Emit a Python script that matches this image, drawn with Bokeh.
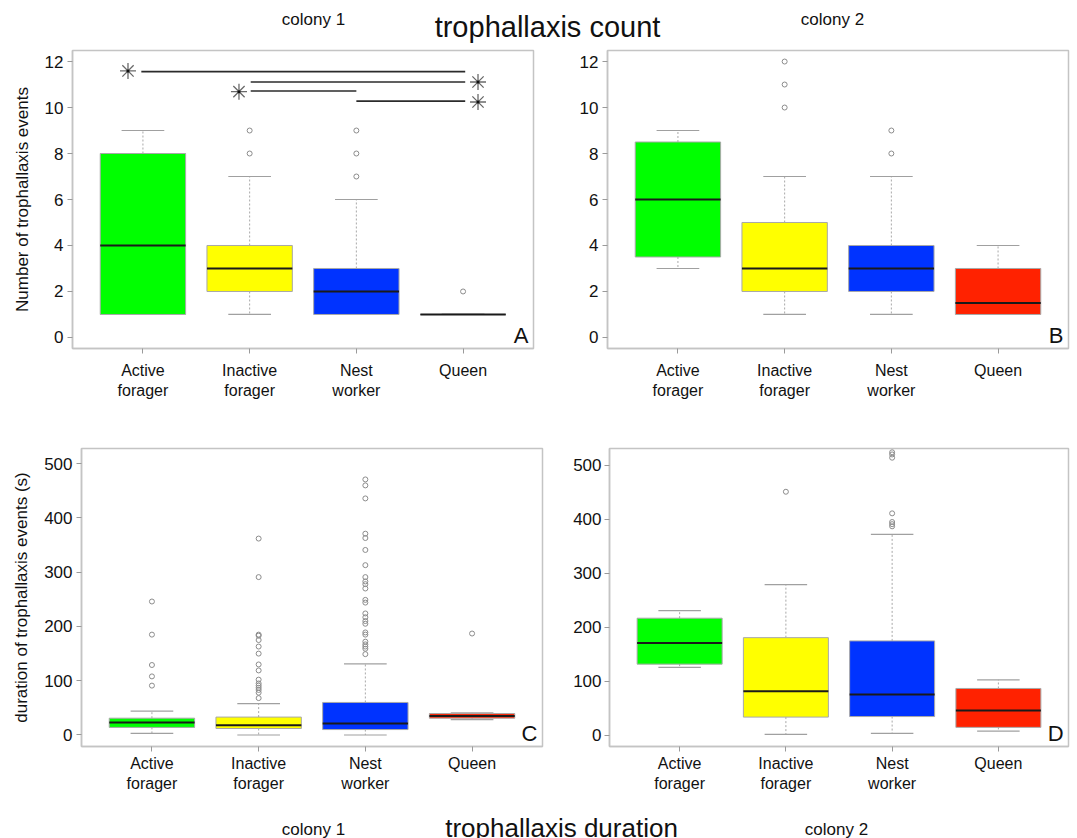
import numpy as np
from bokeh.plotting import figure
from bokeh.layouts import column, row
from bokeh.models import Range1d, FixedTicker, Label
from bokeh.embed import file_html
from bokeh.resources import INLINE

FONT = "Liberation Sans"

categories = ["Active\nforager", "Inactive\nforager", "Nest\nworker", "Queen"]
box_colors = ["#00FF00", "#FFFF00", "#0033FF", "#FF2200"]
count_ticks = [0, 2, 4, 6, 8, 10, 12]
dur_ticks = [0, 100, 200, 300, 400, 500]

# Panel A: trophallaxis count, colony 1
count_c1_q1 = [1, 2, 1, 1]
count_c1_med = [4, 3, 2, 1]
count_c1_q3 = [8, 4, 3, 1]
count_c1_lo = [1, 1, 1, 1]
count_c1_hi = [9, 7, 6, 1]
count_c1_out = [[], [8, 9], [7, 8, 9], [2]]

# Panel B: trophallaxis count, colony 2
count_c2_q1 = [3.5, 2, 2, 1]
count_c2_med = [6, 3, 3, 1.5]
count_c2_q3 = [8.5, 5, 4, 3]
count_c2_lo = [3, 1, 1, 1]
count_c2_hi = [9, 7, 7, 4]
count_c2_out = [[], [10, 11, 12], [8, 9], []]

# Panel C: trophallaxis duration, colony 1
dur_c1_q1 = [14, 12, 10, 31]
dur_c1_med = [23, 18, 21, 35]
dur_c1_q3 = [31, 33, 60, 39.5]
dur_c1_lo = [3, 0, 0, 28.5]
dur_c1_hi = [44, 58, 131, 41]
dur_c1_out = [
    [91, 108, 129, 185, 246],
    [68, 78, 83, 87, 91, 95, 102, 119, 130, 150, 163, 175, 183, 185, 291, 362],
    [149, 159, 163, 167, 172, 185, 189, 205, 210, 217, 224, 244, 249, 270,
     278, 283, 291, 313, 341, 363, 371, 436, 460, 471],
    [187],
]

# Panel D: trophallaxis duration, colony 2
dur_c2_q1 = [132, 34, 35, 15]
dur_c2_med = [171, 82, 76, 46]
dur_c2_q3 = [217, 181, 175, 87]
dur_c2_lo = [126, 2, 4, 8]
dur_c2_hi = [231, 279, 372, 103]
dur_c2_out = [[], [451], [387, 391, 395, 411, 514, 520, 524], []]

# significance brackets in panel A
sig_x0 = [0.985, 2.01, 2.01, 3.0]
sig_x1 = [4.02, 4.02, 3.0, 4.02]
sig_y = [11.56, 11.11, 10.72, 10.28]
star_x = [0.86, 4.14, 1.90, 4.14]
star_y = [11.59, 11.11, 10.69, 10.24]

XR = (0.34, 4.66)
FRAME_W = 461
FRAME_H = 298


def panel(q1, med, q3, lo, hi, out, yr, yticks, ylabel, letter,
          width, bl, br, bt, bb, ylab_standoff, xlab_standoff, ytick_standoff=4):
    p = figure(width=width, height=bt + FRAME_H + bb,
               x_range=Range1d(*XR), y_range=Range1d(*yr),
               output_backend="svg", toolbar_location=None,
               min_border_left=bl, min_border_right=br,
               min_border_top=bt, min_border_bottom=bb)
    p.grid.visible = False
    p.outline_line_color = "#c4c4c4"
    p.outline_line_width = 1.5
    p.background_fill_color = "white"

    xs = np.arange(1, len(categories) + 1)
    half = 0.4
    cap = 0.2

    # whiskers (dotted)
    p.segment(x0=xs, y0=q3, x1=xs, y1=hi, line_color="#a8a8a8",
              line_dash="2 2", line_width=1)
    p.segment(x0=xs, y0=q1, x1=xs, y1=lo, line_color="#a8a8a8",
              line_dash="2 2", line_width=1)
    # caps
    p.segment(x0=xs - cap, y0=hi, x1=xs + cap, y1=hi, line_color="#a0a0a0", line_width=1.2)
    p.segment(x0=xs - cap, y0=lo, x1=xs + cap, y1=lo, line_color="#a0a0a0", line_width=1.2)
    # boxes
    p.vbar(x=xs, width=2 * half, bottom=q1, top=q3, fill_color=box_colors,
           line_color="#a8a8a8", line_width=1)
    # medians
    p.segment(x0=xs - half, y0=med, x1=xs + half, y1=med, line_color="#1a1a1a", line_width=2)
    # outliers
    ox = [int(xs[i]) for i, vals in enumerate(out) for v in vals]
    oy = [v for vals in out for v in vals]
    if ox:
        p.scatter(ox, oy, marker="circle", size=5, fill_color=None,
                  line_color="#8c8c8c", line_width=1)

    # axes
    p.xaxis.ticker = FixedTicker(ticks=list(xs))
    p.xaxis.major_label_overrides = {int(x): c for x, c in zip(xs, categories)}
    p.yaxis.ticker = FixedTicker(ticks=yticks)
    for ax in (p.xaxis[0], p.yaxis[0]):
        ax.axis_line_color = "#c4c4c4"
        ax.axis_line_width = 1.5
        ax.major_tick_line_color = "#9a9a9a"
        ax.major_tick_out = 5
        ax.major_tick_in = 0
        ax.minor_tick_line_color = None
        ax.major_label_text_font = FONT
        ax.major_label_text_color = "#111111"
    p.xaxis.major_label_text_font_size = "16px"
    p.yaxis.major_label_text_font_size = "17px"
    p.xaxis.major_label_standoff = xlab_standoff
    p.yaxis.major_label_standoff = ytick_standoff
    if ylabel:
        p.yaxis.axis_label = ylabel
        p.yaxis.axis_label_text_font = FONT
        p.yaxis.axis_label_text_font_size = "17px"
        p.yaxis.axis_label_text_font_style = "normal"
        p.yaxis.axis_label_text_color = "#111111"
        p.yaxis.axis_label_standoff = ylab_standoff

    # panel letter in lower-right corner
    ppu_x = FRAME_W / (XR[1] - XR[0])
    ppu_y = FRAME_H / (yr[1] - yr[0])
    p.add_layout(Label(x=XR[1] - 5 / ppu_x, y=yr[0] + 0.5 / ppu_y, text=letter,
                       text_align="right", text_baseline="bottom",
                       text_font=FONT, text_font_size="22px", text_color="#111111"))
    return p


pA = panel(count_c1_q1, count_c1_med, count_c1_q3, count_c1_lo, count_c1_hi, count_c1_out,
           (-0.48, 12.48), count_ticks, "Number of trophallaxis events", "A",
           width=570, bl=72, br=37, bt=2, bb=72, ylab_standoff=10, xlab_standoff=8)
pB = panel(count_c2_q1, count_c2_med, count_c2_q3, count_c2_lo, count_c2_hi, count_c2_out,
           (-0.48, 12.48), count_ticks, None, "B",
           width=507, bl=37, br=9, bt=2, bb=72, ylab_standoff=12, xlab_standoff=8)
pC = panel(dur_c1_q1, dur_c1_med, dur_c1_q3, dur_c1_lo, dur_c1_hi, dur_c1_out,
           (-21.2, 528), dur_ticks, "duration of trophallaxis events (s)", "C",
           width=570, bl=81, br=28, bt=28, bb=48, ylab_standoff=10, xlab_standoff=3)
pD = panel(dur_c2_q1, dur_c2_med, dur_c2_q3, dur_c2_lo, dur_c2_hi, dur_c2_out,
           (-20.4, 531), dur_ticks, None, "D",
           width=507, bl=37, br=9, bt=28, bb=48, ylab_standoff=12, xlab_standoff=3,
           ytick_standoff=3)

# significance brackets (panel A)
pA.segment(x0=sig_x0, y0=sig_y, x1=sig_x1, y1=sig_y, line_color="#2b2b2b", line_width=1.6)
pA.scatter(star_x, star_y, marker="asterisk", size=16, line_color="#6a6a6a", line_width=1.3)
pA.scatter(star_x, star_y, marker="circle", size=3, fill_color="#111111", line_color=None)


def text_strip(height, items):
    f = figure(width=1077, height=height, x_range=Range1d(0, 1077), y_range=Range1d(height, 0),
               output_backend="svg", toolbar_location=None,
               x_axis_location=None, y_axis_location=None, min_border=0)
    f.grid.visible = False
    f.outline_line_color = None
    for x, y, txt, size in items:
        f.add_layout(Label(x=x, y=y, text=txt, text_align="center", text_baseline="alphabetic",
                           text_font=FONT, text_font_size=size, text_color="#111111"))
    return f


top = text_strip(48, [(313, 19, "colony 1", "17px"),
                      (547, 26, "trophallaxis count", "29px"),
                      (832, 19, "colony 2", "17px")])
bottom = text_strip(44, [(313, 35, "colony 1", "17px"),
                         (561, 33, "trophallaxis duration", "26px"),
                         (836, 35, "colony 2", "17px")])

layout = column(top, row(pA, pB), row(pC, pD), bottom)
open("out.html", "w").write(file_html(layout, INLINE))
